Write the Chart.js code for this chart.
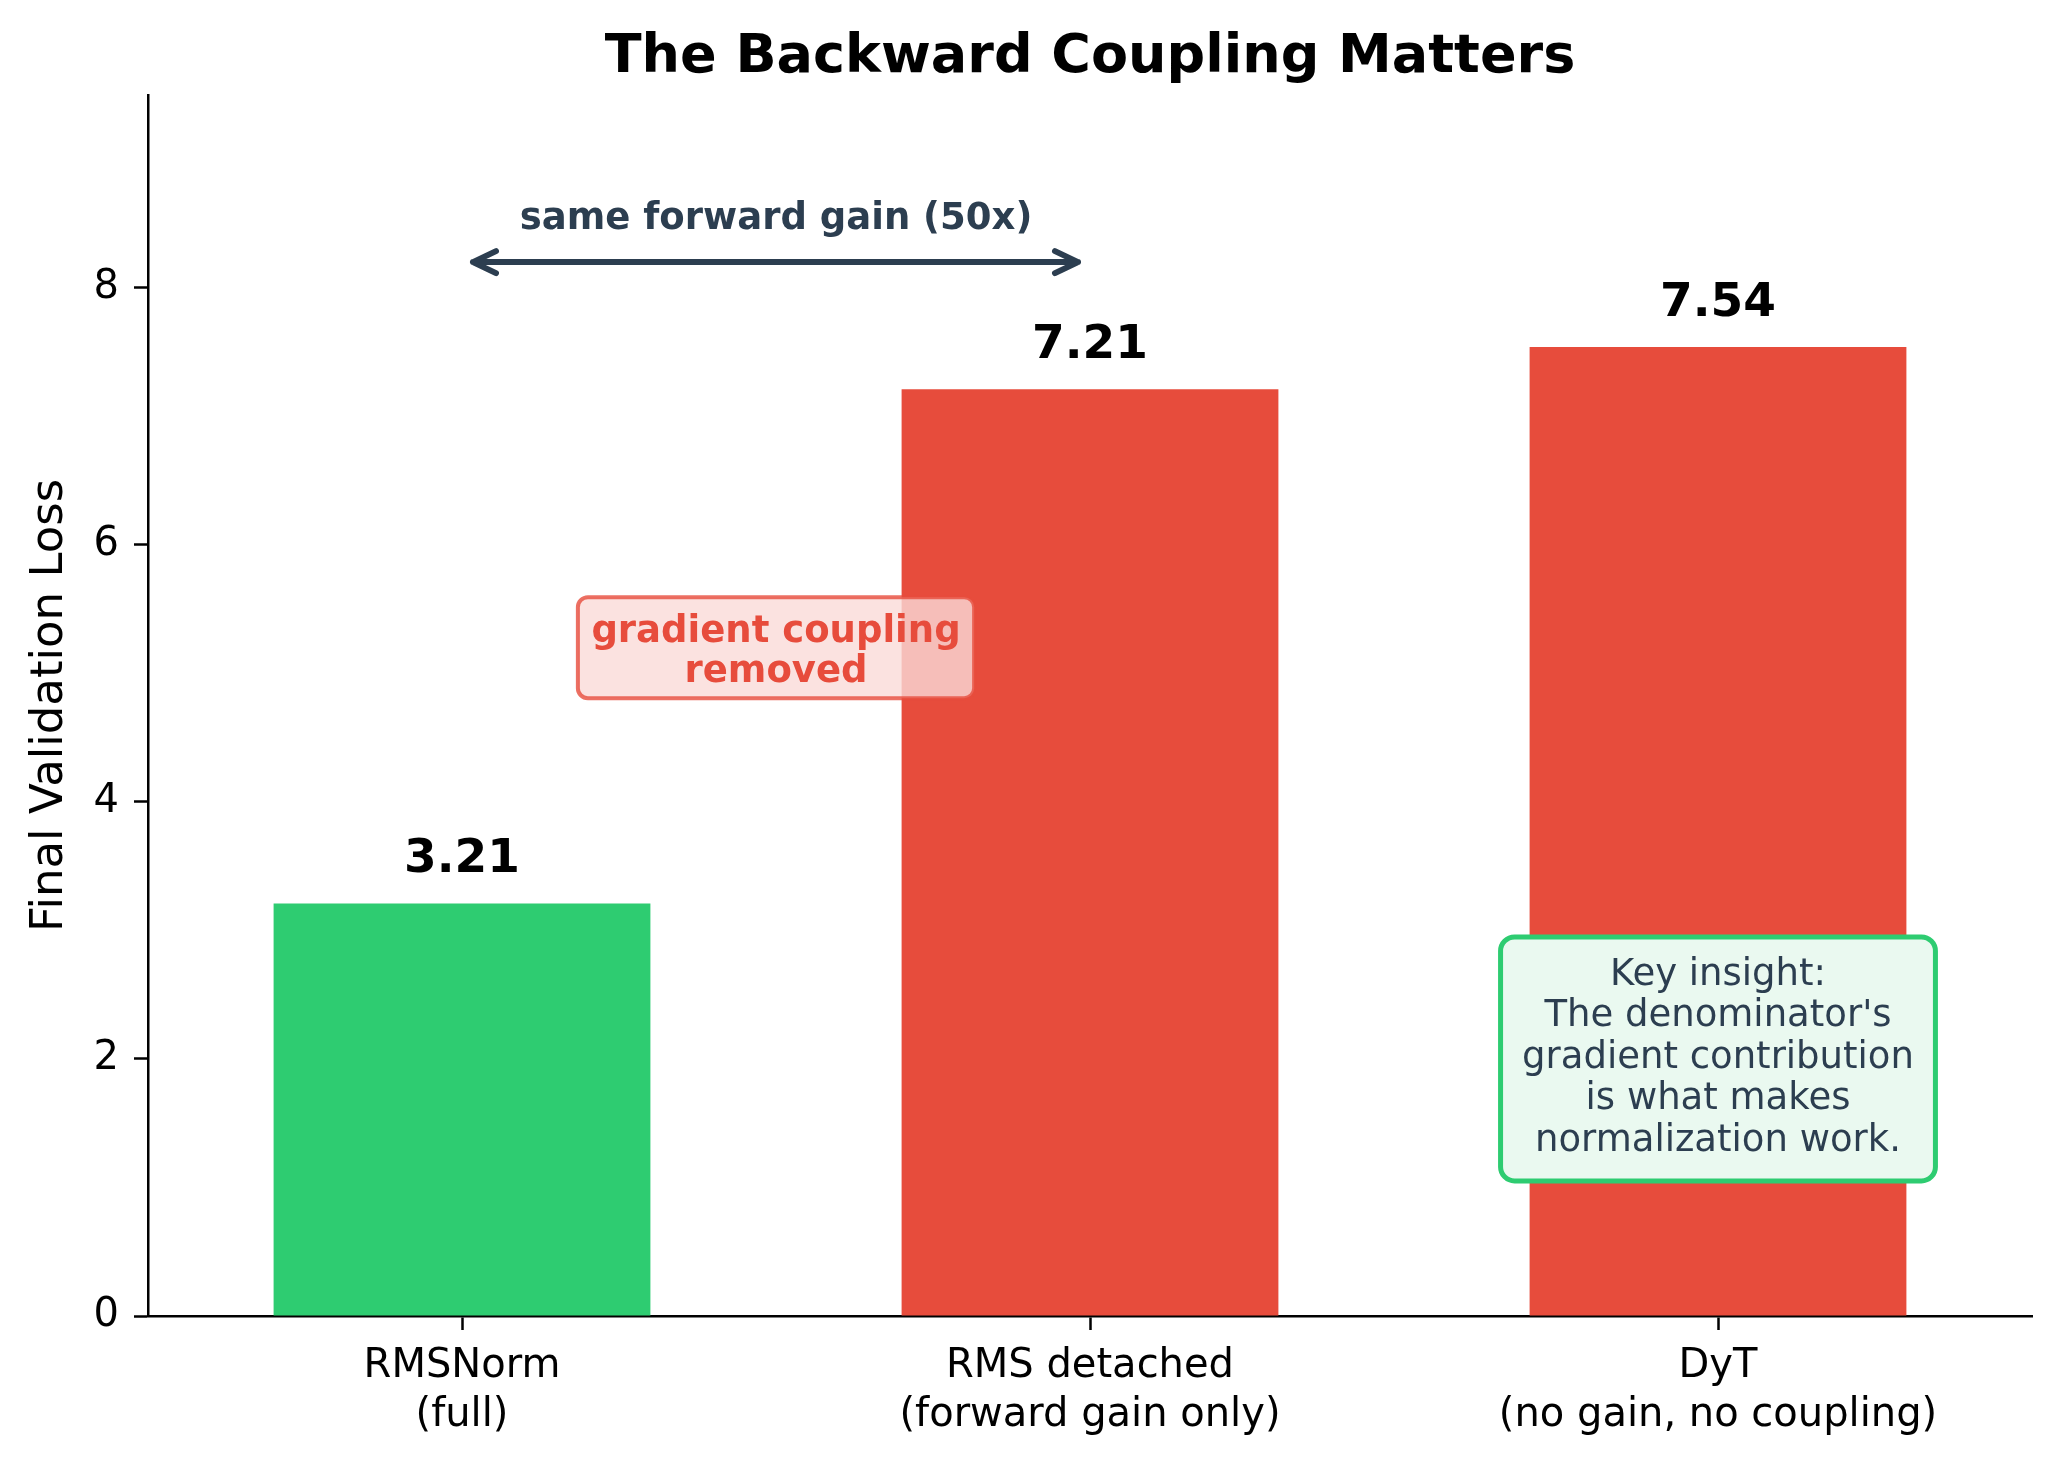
<!DOCTYPE html>
<html lang="en">
<head>
    <meta charset="UTF-8">
    <title>The Backward Coupling Matters</title>
    <script src="https://cdn.jsdelivr.net/npm/chart.js"></script>
    <style>
        body {
            margin: 0;
            padding: 0;
            background-color: #fff;
        }
        .chart-container {
            width: 2059px;
            height: 1466px;
        }
    </style>
</head>
<body>
    <div class="chart-container">
        <canvas id="lossChart" width="2059" height="1466"></canvas>
    </div>

    <script>
        // data
        const categories = [
            ['RMSNorm', '(full)'],
            ['RMS detached', '(forward gain only)'],
            ['DyT', '(no gain, no coupling)']
        ];
        const lossValues = [3.21, 7.21, 7.54];
        const barColors = ['#2ecc71', '#e74c3c', '#e74c3c'];
        const yTicks = [0, 2, 4, 6, 8];

        const DARK = '#2c3e50';
        const RED = '#e74c3c';
        const GREEN = '#2ecc71';

        Chart.defaults.font.family = "'DejaVu Sans', sans-serif";

        function multiLine(ctx, lines, cx, firstBaseline, step) {
            lines.forEach((t, i) => ctx.fillText(t, cx, firstBaseline + i * step));
        }

        // title, value labels, arrow and the two text boxes
        const annotations = {
            id: 'annotations',
            afterDatasetsDraw(chart) {
                const ctx = chart.ctx;
                const area = chart.chartArea;
                const x = chart.scales.x;
                const y = chart.scales.y;
                ctx.save();

                // title
                ctx.fillStyle = '#000';
                ctx.font = "bold 54px 'DejaVu Sans'";
                ctx.textAlign = 'center';
                ctx.textBaseline = 'alphabetic';
                ctx.fillText('The Backward Coupling Matters', (area.left + area.right) / 2, 72);

                // value labels above bars
                const meta = chart.getDatasetMeta(0);
                ctx.font = "bold 47px 'DejaVu Sans'";
                meta.data.forEach((bar, i) => {
                    ctx.fillText(lossValues[i].toFixed(2), bar.x, bar.y - 31);
                });

                // double arrow between the first two bars
                const x0 = x.getPixelForValue(0) + 11;
                const x1 = x.getPixelForValue(1) - 12;
                const ay = y.getPixelForValue(8.2);
                ctx.strokeStyle = DARK;
                ctx.lineWidth = 6;
                ctx.lineCap = 'round';
                ctx.lineJoin = 'round';
                ctx.beginPath();
                ctx.moveTo(x0, ay);
                ctx.lineTo(x1, ay);
                ctx.moveTo(x0 + 23, ay - 11);
                ctx.lineTo(x0, ay);
                ctx.lineTo(x0 + 23, ay + 11);
                ctx.moveTo(x1 - 23, ay - 11);
                ctx.lineTo(x1, ay);
                ctx.lineTo(x1 - 23, ay + 11);
                ctx.stroke();

                const mid = (x.getPixelForValue(0) + x.getPixelForValue(1)) / 2;
                ctx.fillStyle = DARK;
                ctx.font = "bold 37px 'DejaVu Sans'";
                ctx.fillText('same forward gain (50x)', mid, ay - 33);

                // "gradient coupling removed" box
                const rLines = ['gradient coupling', 'removed'];
                const rcy = y.getPixelForValue(5.2);
                const rw = ctx.measureText(rLines[0]).width + 27;
                const rh = 101;
                ctx.beginPath();
                ctx.roundRect(mid - rw / 2, rcy - rh / 2, rw, rh, 10);
                ctx.fillStyle = 'rgba(250, 219, 216, 0.8)';
                ctx.fill();
                ctx.lineWidth = 4;
                ctx.strokeStyle = 'rgba(231, 76, 60, 0.8)';
                ctx.stroke();
                ctx.fillStyle = RED;
                multiLine(ctx, rLines, mid, rcy - 6, 40);

                // key insight box
                const kLines = ['Key insight:', "The denominator's", 'gradient contribution',
                    'is what makes', 'normalization work.'];
                const kcx = x.getPixelForValue(2);
                const kcy = y.getPixelForValue(2.0);
                ctx.font = "37px 'DejaVu Sans'";
                const kw = Math.max(...kLines.map(t => ctx.measureText(t).width)) + 43;
                const kh = 244;
                ctx.beginPath();
                ctx.roundRect(kcx - kw / 2, kcy - kh / 2, kw, kh, 14);
                ctx.fillStyle = '#eaf9f0';
                ctx.fill();
                ctx.lineWidth = 5;
                ctx.strokeStyle = GREEN;
                ctx.stroke();
                ctx.fillStyle = DARK;
                multiLine(ctx, kLines, kcx, kcy + 9 - 2 * 41.5, 41.5);

                ctx.restore();
            }
        };

        const config = {
            type: 'bar',
            data: {
                labels: categories,
                datasets: [{
                    data: lossValues,
                    backgroundColor: barColors,
                    borderWidth: 0,
                    barPercentage: 0.6,
                    categoryPercentage: 1.0
                }]
            },
            options: {
                responsive: false,
                devicePixelRatio: 1,
                animation: false,
                layout: { padding: { top: 95, right: 27, left: 0, bottom: 0 } },
                plugins: {
                    legend: { display: false },
                    title: { display: false },
                    tooltip: { enabled: false }
                },
                scales: {
                    x: {
                        offset: true,
                        grid: {
                            drawOnChartArea: false,
                            drawTicks: true,
                            tickLength: 14,
                            tickWidth: 2.5,
                            tickColor: '#000',
                            offset: false
                        },
                        border: { display: true, color: '#000', width: 2.5 },
                        ticks: {
                            color: '#000',
                            font: { size: 40, lineHeight: 1.22 },
                            padding: 12,
                            maxRotation: 0,
                            autoSkip: false
                        },
                        afterFit: s => { s.height = 150; }
                    },
                    y: {
                        min: 0,
                        max: 9.5,
                        afterBuildTicks: s => { s.ticks = yTicks.map(v => ({ value: v })); },
                        grid: {
                            drawOnChartArea: false,
                            drawTicks: true,
                            tickLength: 14,
                            tickWidth: 2.5,
                            tickColor: '#000'
                        },
                        border: { display: true, color: '#000', width: 2.5 },
                        ticks: {
                            color: '#000',
                            font: { size: 40 },
                            padding: 15
                        },
                        title: {
                            display: true,
                            text: 'Final Validation Loss',
                            color: '#000',
                            font: { size: 45 },
                            padding: { top: 23, bottom: 0 }
                        },
                        afterFit: s => { s.width = 148; }
                    }
                }
            },
            plugins: [annotations]
        };

        window.onload = function() {
            const ctx = document.getElementById('lossChart').getContext('2d');
            new Chart(ctx, config);
        };
    </script>
</body>
</html>
